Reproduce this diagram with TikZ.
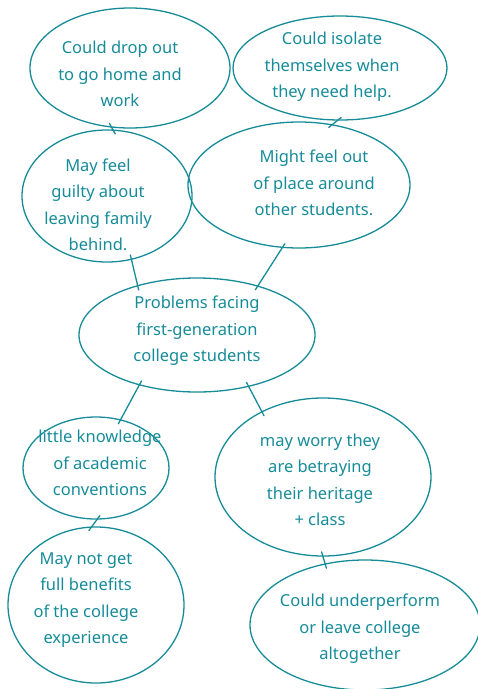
\documentclass[tikz,border=0pt]{standalone}
\usepackage{fontspec}
\setmainfont{Noto Sans}
\usetikzlibrary{shapes.geometric}
\definecolor{ink}{HTML}{178C99}
\begin{document}
\begin{tikzpicture}[x=1pt,y=-1pt,
  bubble/.style={draw=ink,ellipse,line width=1.3pt,inner sep=0pt},
  txt/.style={text=ink,align=center,font=\fontsize{16.5}{26.5}\selectfont,inner sep=0pt},
  link/.style={draw=ink,line width=1.3pt,line cap=round,shorten <=-5pt,shorten >=-5pt}]
\useasboundingbox (0,0) rectangle (478,689);
\fill[white] (0,0) rectangle (478,689);
% bubbles
\node[bubble,minimum width=200pt,minimum height=120pt] (e1) at (130,68) {};
\node[bubble,minimum width=214pt,minimum height=104pt] (e2) at (340,68) {};
\node[bubble,minimum width=170pt,minimum height=132pt] (e3) at (107,196) {};
\node[bubble,minimum width=222pt,minimum height=126pt] (e4) at (299,185) {};
\node[bubble,minimum width=236pt,minimum height=114pt] (e5) at (197,335) {};
\node[bubble,minimum width=146pt,minimum height=102pt] (e6) at (96,468) {};
\node[bubble,minimum width=216pt,minimum height=158pt] (e7) at (323,477) {};
\node[bubble,minimum width=176pt,minimum height=156pt] (e8) at (96,605) {};
\node[bubble,minimum width=230pt,minimum height=130pt] (e9) at (365,625) {};
% texts
\node[txt] (t1) at (120,74) {Could drop out\\to go home and\\work};
\node[txt] (t2) at (332,67) {Could isolate\\themselves when\\they need help.};
\node[txt] (t3) at (98,205) {May feel\\guilty about\\leaving family\\behind.};
\node[txt] (t4) at (314,183) {Might feel out\\of place around\\other students.};
\node[txt] (t5) at (197,331) {Problems facing\\first-generation\\college students};
\node[txt] (t6) at (100,463) {little knowledge\\of academic\\conventions};
\node[txt] (t7) at (320,480) {may worry they\\are betraying\\their heritage\\+ class};
\node[txt] (t8) at (86,600) {May not get\\full benefits\\of the college\\experience};
\node[txt] (t9) at (360,629) {Could underperform\\or leave college\\altogether};
% connectors
\draw[link] (e1.-107) -- (e3.85);
\draw[link] (e2.-93) -- (e4.61);
\draw[link] (e3.-69) -- (e5.140);
\draw[link] (e4.-105) -- (e5.39);
\draw[link] (e5.-139) -- (e6.63);
\draw[link] (e5.-45) -- (e7.133);
\draw[link] (e6.-89) -- (e8.93);
\draw[link] (e7.-90) -- (e9.123);
\end{tikzpicture}
\end{document}
